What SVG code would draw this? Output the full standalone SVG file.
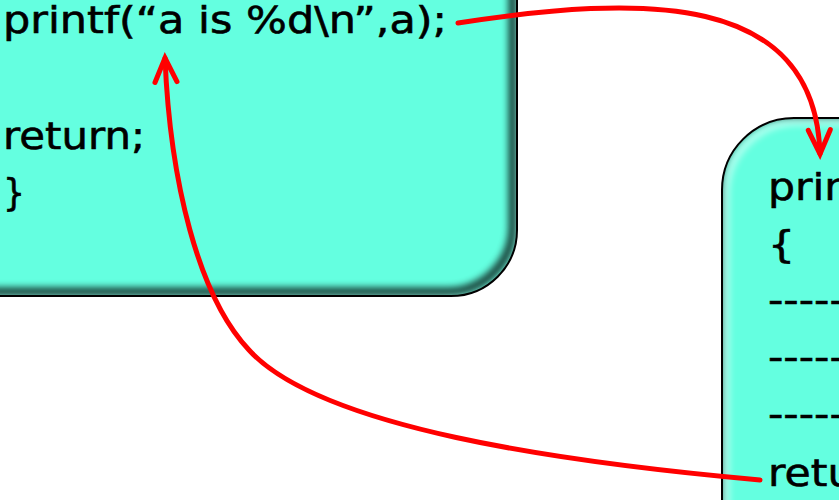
<svg xmlns="http://www.w3.org/2000/svg" width="839" height="500" viewBox="0 0 839 500">
<style>
.box{fill:#64FFE0;}
.edge{fill:none;stroke:#000;stroke-width:2;}
.txt{font-family:"DejaVu Sans","Liberation Sans",sans-serif;font-size:38px;fill:#000;stroke:#000;stroke-width:0.6;}
.conn{fill:none;stroke:#FF0000;stroke-width:5;stroke-linecap:round;}
</style>
<defs>
<filter id="blur" x="-20%" y="-20%" width="140%" height="140%"><feGaussianBlur stdDeviation="3.5"/></filter>
<clipPath id="clipL"><rect x="-100" y="-100" width="617" height="396" rx="66"/></clipPath>
<clipPath id="clipR"><rect x="722" y="118" width="300" height="500" rx="72"/></clipPath>
<marker id="ah" markerUnits="userSpaceOnUse" markerWidth="40" markerHeight="40" viewBox="-30 -20 40 40" refX="0" refY="0" orient="auto">
<path d="M-24,-11 L0,0 L-24,11" fill="none" stroke="#FF0000" stroke-width="5" stroke-linecap="round" stroke-linejoin="miter"/>
</marker>
</defs>
<g id="node-main">
<rect class="box" x="-100" y="-100" width="617" height="396" rx="66"/>
<g clip-path="url(#clipL)">
<rect x="-104" y="-104" width="617" height="396" rx="66" fill="none" stroke="#000" stroke-width="9" opacity="0.75" filter="url(#blur)"/>
<rect x="-96" y="-96" width="617" height="396" rx="66" fill="none" stroke="#fff" stroke-width="6" opacity="0.5" filter="url(#blur)"/>
</g>
<rect class="edge" x="-100" y="-100" width="617" height="396" rx="66"/>
<text class="txt" x="3" y="33" textLength="444" lengthAdjust="spacingAndGlyphs">printf(“a is %d\n”,a);</text>
<text class="txt" x="3" y="149" textLength="142" lengthAdjust="spacingAndGlyphs">return;</text>
<text class="txt" x="3" y="205" textLength="22" lengthAdjust="spacingAndGlyphs">}</text>
</g>
<g id="node-printf">
<rect class="box" x="722" y="118" width="300" height="500" rx="72"/>
<g clip-path="url(#clipR)">
<rect x="718" y="114" width="300" height="500" rx="72" fill="none" stroke="#000" stroke-width="9" opacity="0.75" filter="url(#blur)"/>
<rect x="726" y="122" width="300" height="500" rx="72" fill="none" stroke="#fff" stroke-width="6" opacity="0.6" filter="url(#blur)"/>
</g>
<rect class="edge" x="722" y="118" width="300" height="500" rx="72"/>
<g transform="translate(768,0) scale(1.12,1)">
<text class="txt" x="0" y="200">printf</text>
<text class="txt" x="0" y="257">{</text>
<text class="txt" x="0" y="313">------</text>
<text class="txt" x="0" y="370">------</text>
<text class="txt" x="0" y="427">------</text>
<text class="txt" x="0" y="486">return</text>
</g>
</g>
<g id="connectors">
<path class="conn" d="M458,23 C640,-5 815,-10 820,154" marker-end="url(#ah)"/>
<path class="conn" d="M760,480 C560,462 320,428 249,350 C198,296 170,180 165,58" marker-end="url(#ah)"/>
</g>
</svg>
